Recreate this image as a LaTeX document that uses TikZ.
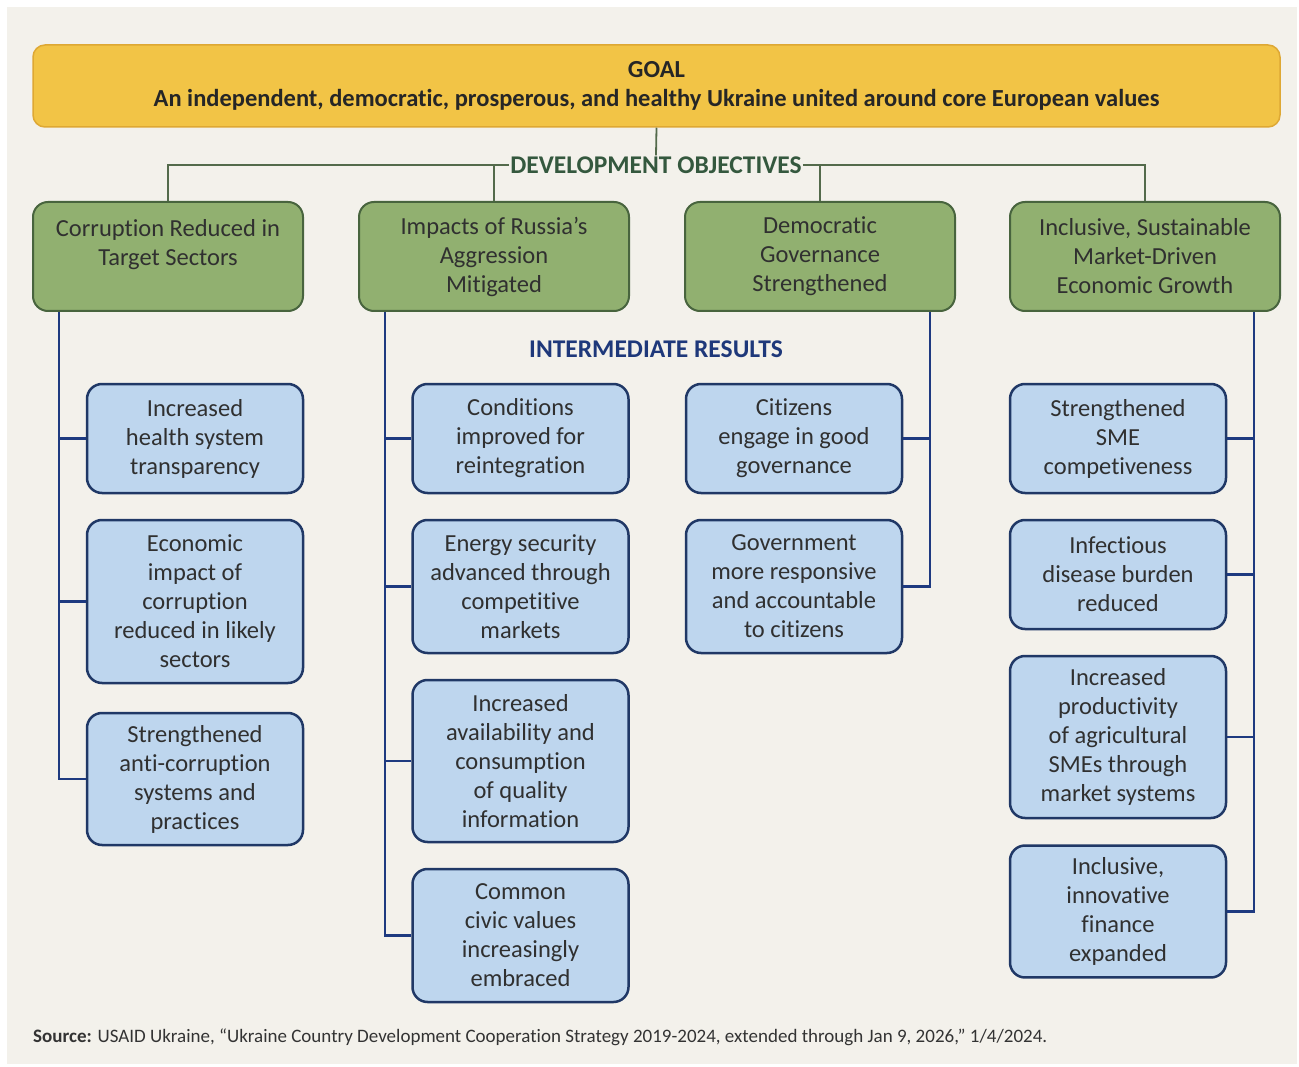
\documentclass[tikz,border=0pt]{standalone}
\usepackage{fontspec}
\setmainfont{Carlito}[Ligatures={NoCommon,NoContextual,NoRare}]
\usepackage{tikz}
\usetikzlibrary{positioning}

\definecolor{bgpaper}{RGB}{243,241,235}
\definecolor{goalfill}{RGB}{242,196,70}
\definecolor{goaldraw}{RGB}{222,168,52}
\definecolor{objfill}{RGB}{145,176,112}
\definecolor{objdraw}{RGB}{72,100,62}
\definecolor{objtext}{RGB}{52,88,62}
\definecolor{resfill}{RGB}{190,214,238}
\definecolor{resdraw}{RGB}{32,56,102}
\definecolor{restext}{RGB}{30,56,122}
\definecolor{reslinec}{RGB}{30,58,128}
\definecolor{boxtext}{RGB}{48,48,48}

\tikzset{
  goalbox/.style={draw=goaldraw,fill=goalfill,line width=1.5pt,rounded corners=12pt,
    minimum width=1247pt,minimum height=82pt,align=center,text=black!85,
    font=\fontsize{24.5}{29}\selectfont\bfseries},
  objbox/.style={draw=objdraw,fill=objfill,line width=2pt,rounded corners=15pt,
    minimum width=270pt,minimum height=109pt,align=center,text=boxtext,
    font=\fontsize{24.5}{29}\selectfont},
  resbox/.style={draw=resdraw,fill=resfill,line width=2.5pt,rounded corners=15pt,
    minimum width=216pt,align=center,text=boxtext,inner ysep=12pt,inner xsep=2pt,
    font=\fontsize{24.5}{29}\selectfont},
  objline/.style={draw=objdraw!80!gray,line width=1.8pt},
  resline/.style={draw=reslinec,line width=2.8pt},
  heading/.style={font=\fontsize{25.5}{29}\selectfont\bfseries,inner sep=1pt}
}

\begin{document}
\begin{tikzpicture}[x=1pt,y=-1pt]
  \useasboundingbox (0,0) rectangle (1299,1067);
  \fill[white] (0,0) rectangle (1299,1067);
  \fill[bgpaper] (7,7) rectangle (1297,1064);

  % Goal
  \node[goalbox] (goal) at (656.5,86) {GOAL\\An independent, democratic, prosperous, and healthy Ukraine united around core European values};

  % Development objectives
  \node[heading,text=objtext] (dolabel) at (656,165) {DEVELOPMENT OBJECTIVES};
  \node[objbox] (o1) at (168,256.5) {Corruption Reduced in\\Target Sectors\\\mbox{}};
  \node[objbox] (o2) at (494,256.5) {Impacts of Russia's\\Aggression\\Mitigated};
  \node[objbox] (o3) at (820,256.5) {Democratic\\Governance\\Strengthened};
  \node[objbox] (o4) at (1145,256.5) {Inclusive, Sustainable\\Market-Driven\\Economic Growth};

  \draw[objline] (goal.south) -- (dolabel.north);
  \draw[objline] (dolabel.west) -| (o1.north);
  \draw[objline] (o2.north) -- (o2.north |- dolabel.west);
  \draw[objline] (dolabel.east) -| (o4.north);
  \draw[objline] (o3.north) -- (o3.north |- dolabel.east);

  % Intermediate results
  \node[heading,text=restext] (irlabel) at (656,349) {INTERMEDIATE RESULTS};

  \node[resbox,minimum height=109pt] (r11) at (195,438.5) {Increased\\health system\\transparency};
  \node[resbox,minimum height=163pt] (r12) at (195,601.5) {Economic\\impact of\\corruption\\reduced in likely\\sectors};
  \node[resbox,minimum height=132pt] (r13) at (195,779) {Strengthened\\anti-corruption\\systems and\\practices};

  \node[resbox,minimum height=109pt] (r21) at (520.5,438.5) {Conditions\\improved for\\reintegration};
  \node[resbox,minimum height=133pt] (r22) at (520.5,586.5) {Energy security\\advanced through\\competitive\\markets};
  \node[resbox,minimum height=162pt] (r23) at (520.5,761) {Increased\\availability and\\consumption\\of quality\\information};
  \node[resbox,minimum height=133pt] (r24) at (520.5,935.5) {Common\\civic values\\increasingly\\embraced};

  \node[resbox,minimum height=109pt] (r31) at (794,438.5) {Citizens\\engage in good\\governance};
  \node[resbox,minimum height=133pt] (r32) at (794,586.5) {Government\\more responsive\\and accountable\\to citizens};

  \node[resbox,minimum height=109pt] (r41) at (1118,438.5) {Strengthened\\SME\\competiveness};
  \node[resbox,minimum height=109pt] (r42) at (1118,574.5) {Infectious\\disease burden\\reduced};
  \node[resbox,minimum height=162pt] (r43) at (1118,737) {Increased\\productivity\\of agricultural\\SMEs through\\market systems};
  \node[resbox,minimum height=131pt] (r44) at (1118,911.5) {Inclusive,\\innovative\\finance\\expanded};

  % Trunks
  \coordinate (t1) at ([xshift=27pt]o1.south west);
  \coordinate (t2) at ([xshift=27pt]o2.south west);
  \coordinate (t3) at ([xshift=-26pt]o3.south east);
  \coordinate (t4) at ([xshift=-27pt]o4.south east);

  \draw[resline] (t1) |- (r13.west);
  \draw[resline] (r11.west) -- (r11.west -| t1);
  \draw[resline] (r12.west) -- (r12.west -| t1);

  \draw[resline] (t2) |- (r24.west);
  \foreach \r in {r21,r22,r23}
    \draw[resline] (\r.west) -- (\r.west -| t2);

  \draw[resline] (t3) |- (r32.east);
  \draw[resline] (r31.east) -- (r31.east -| t3);

  \draw[resline] (t4) |- (r44.east);
  \foreach \r in {r41,r42,r43}
    \draw[resline] (\r.east) -- (\r.east -| t4);

  % Source
  \node[anchor=west,font=\fontsize{19}{22}\selectfont,text=black!80,inner sep=0pt] (src) at (33,1037)
    {\textbf{Source:} USAID Ukraine, ``Ukraine Country Development Cooperation Strategy 2019-2024, extended through Jan 9, 2026,'' 1/4/2024.};
\end{tikzpicture}
\end{document}
